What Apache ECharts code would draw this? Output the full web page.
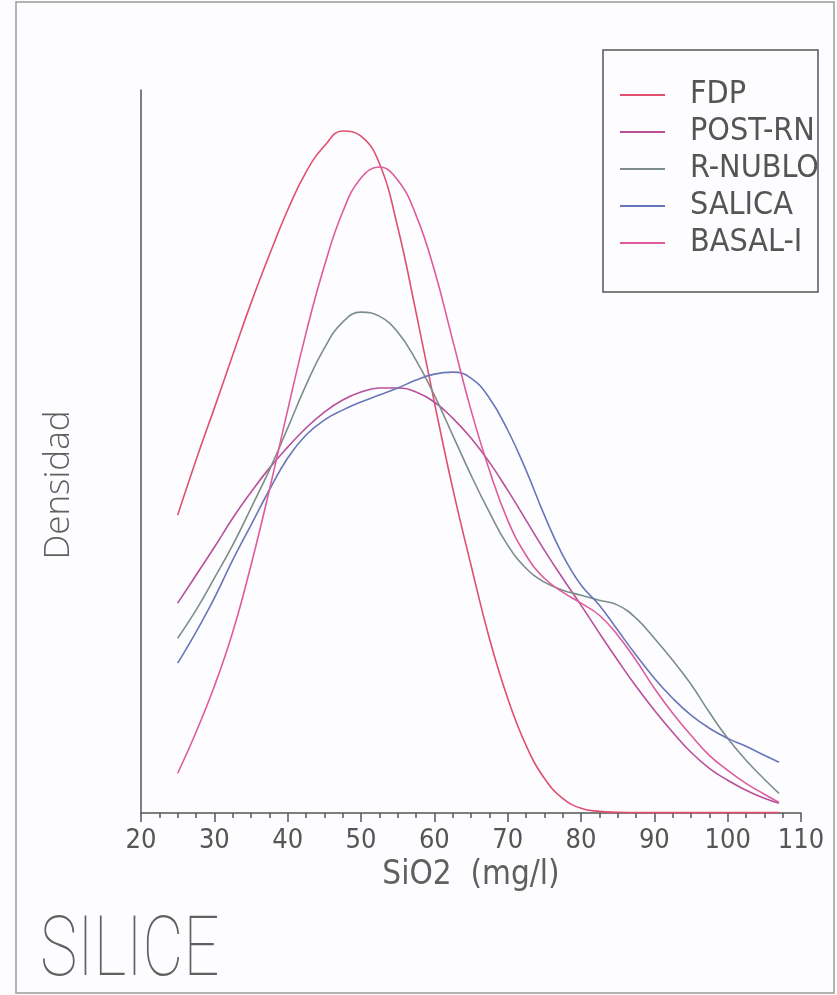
<!DOCTYPE html>
<html>
<head>
<meta charset="utf-8">
<script src="https://cdn.jsdelivr.net/npm/echarts@6/dist/echarts.min.js"></script>
<style>
  html, body { margin: 0; padding: 0; background: #fdfdff; }
  #chart { width: 837px; height: 995px; }
</style>
</head>
<body>
<div id="chart"></div>
<script>
// SiO2 concentration grid (mg/l) shared by all density curves
const silica = [25, 27.5, 30, 32.5, 35, 37.5, 40, 42.5, 45, 47.5, 50, 52.5, 55, 57.5, 60, 62.5,
  65, 67.5, 70, 72.5, 75, 77.5, 80, 82.5, 85, 87.5, 90, 92.5, 95, 97.5, 100, 102.5, 105, 107];

const seriesNames = ['FDP', 'POST-RN', 'R-NUBLO', 'SALICA', 'BASAL-I'];
const seriesColors = ['#e0506e', '#b9509a', '#7d8d8a', '#6a76b8', '#de5c9c'];

// Estimated density for each aquifer unit
const fdp = [0.01648, 0.01952, 0.02240, 0.02533, 0.02821, 0.03087, 0.03336, 0.03546, 0.03690, 0.03773,
  0.03745, 0.03595, 0.03242, 0.02771, 0.02273, 0.01797, 0.01371, 0.00967, 0.00635, 0.00375,
  0.00192, 0.00081, 0.00026, 0.00009, 0.00004, 0.00002, 0.00002, 0.00002, 0.00002, 0.00002,
  0.00002, 0.00002, 0.00002, 0.00002];
const postRn = [0.01161, 0.01315, 0.01470, 0.01631, 0.01775, 0.01908, 0.02024, 0.02130, 0.02218, 0.02285,
  0.02329, 0.02351, 0.02351, 0.02329, 0.02274, 0.02185, 0.02075, 0.01941, 0.01786, 0.01620,
  0.01454, 0.01299, 0.01150, 0.00995, 0.00845, 0.00701, 0.00569, 0.00447, 0.00336, 0.00247,
  0.00181, 0.00126, 0.00081, 0.00054];
const rNublo = [0.00967, 0.01122, 0.01299, 0.01482, 0.01687, 0.01897, 0.02129, 0.02367, 0.02572, 0.02716,
  0.02771, 0.02749, 0.02661, 0.02506, 0.02312, 0.02091, 0.01869, 0.01664, 0.01482, 0.01354,
  0.01277, 0.01233, 0.01205, 0.01177, 0.01150, 0.01078, 0.00967, 0.00845, 0.00712, 0.00557,
  0.00413, 0.00292, 0.00187, 0.00109];
const salica = [0.00829, 0.01001, 0.01189, 0.01399, 0.01593, 0.01787, 0.01964, 0.02091, 0.02174, 0.02229,
  0.02274, 0.02312, 0.02351, 0.02395, 0.02428, 0.02439, 0.02406, 0.02296, 0.02119, 0.01897,
  0.01648, 0.01427, 0.01261, 0.01150, 0.01012, 0.00874, 0.00746, 0.00635, 0.00541, 0.00469,
  0.00413, 0.00369, 0.00319, 0.00281];
const basalI = [0.00220, 0.00447, 0.00701, 0.01000, 0.01371, 0.01786, 0.02229, 0.02655, 0.03026, 0.03325,
  0.03513, 0.03574, 0.03502, 0.03308, 0.03004, 0.02616, 0.02229, 0.01897, 0.01620, 0.01426,
  0.01299, 0.01222, 0.01161, 0.01094, 0.00984, 0.00845, 0.00690, 0.00552, 0.00430, 0.00319,
  0.00236, 0.00164, 0.00104, 0.00059];

const densities = [fdp, postRn, rNublo, salica, basalI];

const narrowFont = '"Liberation Sans Narrow", "DejaVu Sans Condensed", "Liberation Sans", sans-serif';

const chart = echarts.init(document.getElementById('chart'), null, { renderer: 'canvas' });

chart.setOption({
  animation: false,
  backgroundColor: '#fdfdff',
  grid: { left: 141, right: 36, top: 90, bottom: 182, containLabel: false },
  xAxis: {
    type: 'value',
    min: 20,
    max: 110,
    interval: 10,
    name: 'SiO2  (mg/l)',
    nameLocation: 'middle',
    nameGap: 37,
    nameTextStyle: { fontFamily: narrowFont, fontSize: 33, color: '#606060' },
    axisLine: { show: true, lineStyle: { color: '#555', width: 1.5 } },
    axisTick: { show: true, length: 9, lineStyle: { color: '#555', width: 1.5 } },
    minorTick: { show: true, splitNumber: 4, length: 5, lineStyle: { color: '#555', width: 1.5 } },
    axisLabel: { fontFamily: narrowFont, fontSize: 27, color: '#555', margin: 14 },
    splitLine: { show: false }
  },
  yAxis: {
    type: 'value',
    min: 0,
    max: 0.04,
    axisLine: { show: true, lineStyle: { color: '#555', width: 1.5 } },
    axisTick: { show: false },
    axisLabel: { show: false },
    splitLine: { show: false }
  },
  legend: {
    orient: 'vertical',
    left: 603,
    top: 79,
    padding: [0, 0, 0, 17],
    itemWidth: 45,
    itemHeight: 2,
    itemGap: 5,
    icon: 'rect',
    data: seriesNames,
    textStyle: { fontFamily: narrowFont, fontSize: 32, lineHeight: 30, color: '#555', padding: [0, 0, 0, 20] }
  },
  graphic: [
    { type: 'rect', shape: { x: 16, y: 2, width: 818, height: 991 }, style: { fill: 'none', stroke: '#9a9a9a', lineWidth: 1.5 }, silent: true },
    { type: 'rect', shape: { x: 603, y: 50, width: 215, height: 242 }, style: { fill: 'none', stroke: '#555', lineWidth: 1.5 }, silent: true },
    {
      type: 'text', x: 59, y: 485, rotation: Math.PI / 2,
      style: { text: 'Densidad', font: '300 35px "Open Sans", "Noto Sans", sans-serif', fill: '#606060', align: 'center', verticalAlign: 'middle' }
    },
    {
      type: 'text', x: 40, y: 954, scaleX: 0.75,
      style: { text: 'SILICE', font: '100 84px Roboto, "Liberation Sans", sans-serif', fill: '#606060', align: 'left', verticalAlign: 'middle' }
    }
  ],
  series: seriesNames.map((name, i) => ({
    name,
    type: 'line',
    smooth: 0.45,
    symbol: 'none',
    color: seriesColors[i],
    lineStyle: { width: 1.6, color: seriesColors[i] },
    data: silica.map((x, j) => [x, densities[i][j]])
  }))
});
</script>
</body>
</html>
